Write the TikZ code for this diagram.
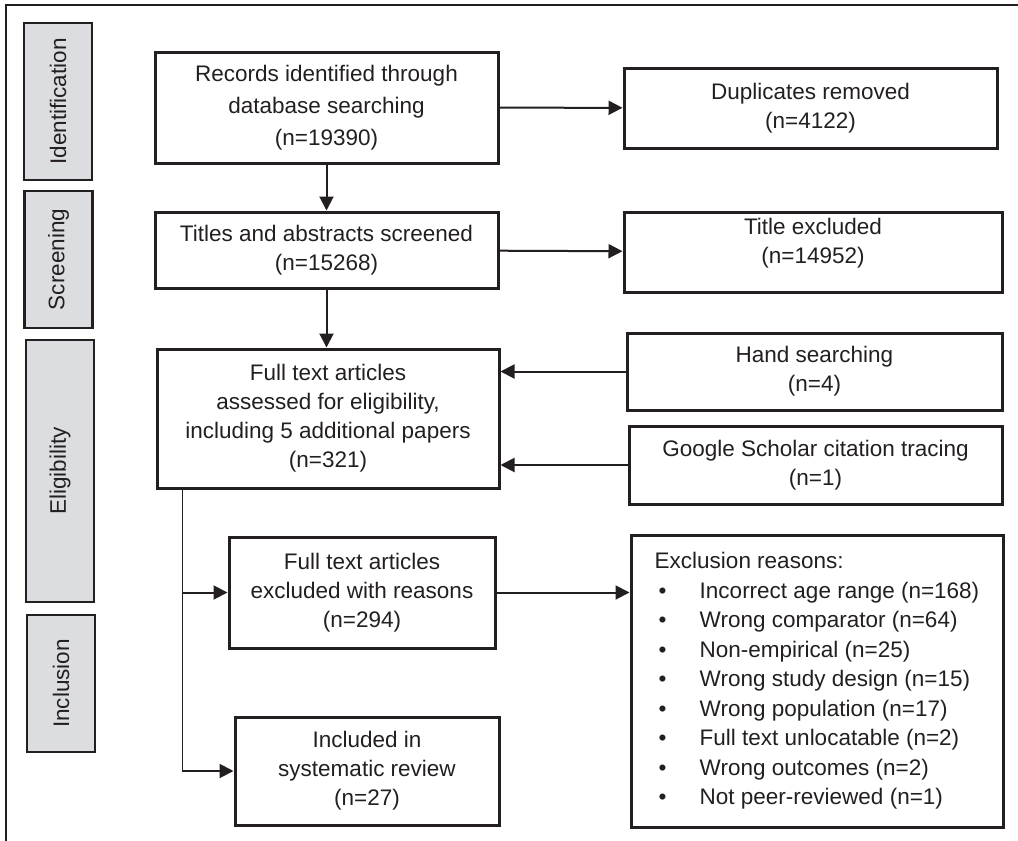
\documentclass[tikz,border=0pt]{standalone}
\usepackage{fontspec}
\setmainfont{Liberation Sans}
\usetikzlibrary{arrows.meta}
\definecolor{ink}{HTML}{231F20}
\definecolor{phasegray}{HTML}{DCDDE0}
\newcommand{\reason}[1]{\makebox[45pt][l]{\hspace{4pt}\textbullet}#1\\}
\begin{document}
\begin{tikzpicture}[x=1pt,y=-1pt,>={Triangle[length=14pt,width=14pt]},
	box/.style={draw=ink,line width=3pt,align=center,inner sep=0pt,text=ink,font=\fontsize{22.5}{29}\selectfont},
	phase/.style={draw=ink,fill=phasegray,line width=2.5pt,rotate=90,inner sep=0pt,minimum height=68pt,text=ink,font=\fontsize{22.5}{29}\selectfont},
	link/.style={draw=ink,line width=2pt,->}]
	\useasboundingbox (0,0) rectangle (1018,841);
	\draw[ink,line width=1.5pt] (1018,5) -- (6,5) -- (6,841);
	% phases
	\node[phase,minimum width=157pt] (pid) at (58,101.5) {Identification};
	\node[phase,minimum width=137pt] (pscr) at (58.5,259.5) {Screening};
	\node[phase,minimum width=262pt] (pel) at (60,471) {Eligibility};
	\node[phase,minimum width=137pt] (pinc) at (61,683.5) {Inclusion};
	% flow
	\node[box,minimum width=343pt,minimum height=111pt,font=\fontsize{22.5}{32}\selectfont] (rec) at (326.5,107.5) {Records identified through\\database searching\\(n=19390)};
	\node[box,minimum width=373pt,minimum height=80pt] (dup) at (810.5,108) {Duplicates removed\\(n=4122)};
	\node[box,minimum width=343pt,minimum height=76pt] (tit) at (326.5,250) {Titles and abstracts screened\\(n=15268)};
	\node[box,minimum width=378pt,minimum height=80pt] (titx) at (813,252) {\raisebox{4pt}[0pt][0pt]{\begin{tabular}{@{}c@{}}Title excluded\\(n=14952)\end{tabular}}};
	\node[box,minimum width=342pt,minimum height=139pt] (full) at (328,418.5) {Full text articles\\assessed for eligibility,\\including 5 additional papers\\(n=321)};
	\node[box,minimum width=375pt,minimum height=77pt] (hand) at (814.5,371.5) {Hand searching\\(n=4)};
	\node[box,minimum width=373pt,minimum height=78pt] (goog) at (815.5,465) {Google Scholar citation tracing\\(n=1)};
	\node[box,minimum width=266pt,minimum height=111pt] (exc) at (362,592.5) {Full text articles\\excluded with reasons\\(n=294)};
	\node[box,minimum width=372pt,minimum height=292pt,align=left,font=\fontsize{22.5}{29.5}\selectfont] (reas) at (817,681) {Exclusion reasons:\\
		\reason{Incorrect age range (n=168)}
		\reason{Wrong comparator (n=64)}
		\reason{Non-empirical (n=25)}
		\reason{Wrong study design (n=15)}
		\reason{Wrong population (n=17)}
		\reason{Full text unlocatable (n=2)}
		\reason{Wrong outcomes (n=2)}
		\makebox[45pt][l]{\hspace{4pt}\textbullet}Not peer-reviewed (n=1)};
	\node[box,minimum width=264pt,minimum height=108pt] (inc) at (367,771) {Included in\\systematic review\\(n=27)};
	% connectors
	\coordinate (split) at (182,0);
	\draw[link] (rec) -- (dup);
	\draw[link] (rec.south) -- (rec.south |- tit.north);
	\draw[link] (tit) -- (titx);
	\draw[link] (tit.south) -- (tit.south |- full.north);
	\draw[link] (hand.west) -- (hand.west -| full.east);
	\draw[link] (goog.west) -- (goog.west -| full.east);
	\draw[ink,line width=1pt] (full.south -| split) -- (split |- inc.west);
	\draw[link] (split |- exc.west) -- (exc.west);
	\draw[link] (split |- inc.west) -- (inc.west);
	\draw[link] (exc.east) -- (exc.east -| reas.west);
\end{tikzpicture}
\end{document}
